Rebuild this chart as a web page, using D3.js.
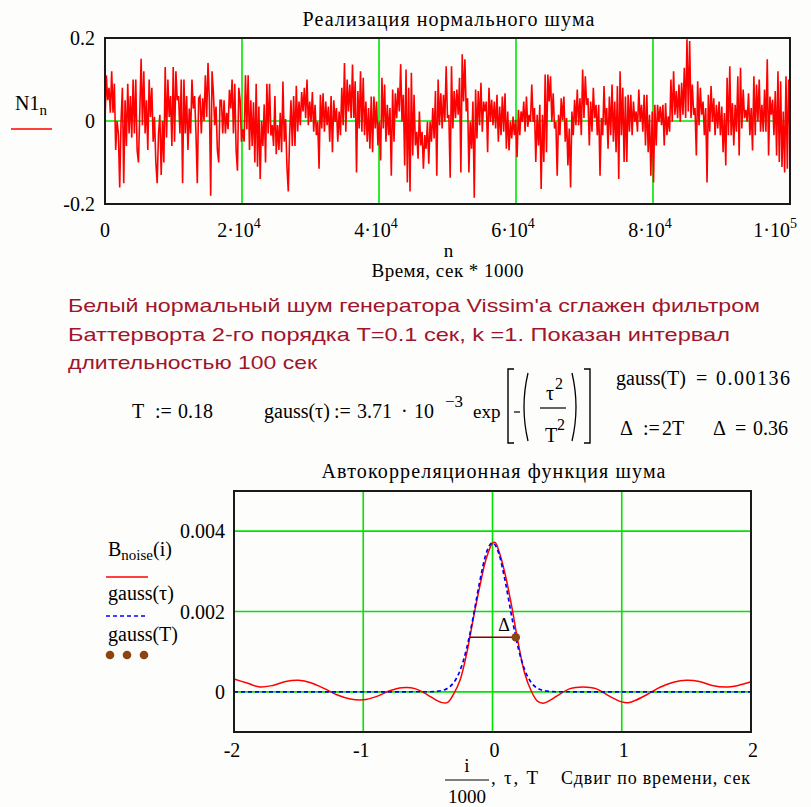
<!DOCTYPE html>
<html><head><meta charset="utf-8">
<script src="https://cdn.jsdelivr.net/npm/d3@7/dist/d3.min.js"></script>
<style>body{margin:0;background:#fdfdfb}svg{display:block}</style>
</head><body>
<svg id="c" width="811" height="807"></svg>
<script>
// ---------- data: noise realisation N1_n (evenly spaced in n) ----------
const N1 = [0,
0.11,0.05,0.08,0.02,0.12,0.02,0.09,-0.07,0.0,-0.03,-0.16,0.0,0.08,-0.15,0.05,-0.06,0.09,-0.03,0.06,-0.04,
0.10,-0.03,0.10,-0.07,-0.10,0.02,0.15,-0.01,0.12,-0.03,0.05,-0.07,0.10,0.01,0.08,-0.05,0.01,-0.10,-0.15,-0.03,
0.015,-0.13,0.0,-0.10,0.13,-0.04,0.10,0.01,0.06,-0.06,0.13,-0.05,0.12,0.05,0.06,-0.03,0.10,-0.15,0.10,-0.03,
0.06,-0.07,0.03,-0.03,0.10,0.03,0.06,-0.03,-0.15,0.055,0.06,-0.03,0.055,0.0,0.11,0.01,0.14,0.05,-0.18,0.12,
0.07,-0.01,0.035,-0.07,-0.10,0.05,0.05,-0.03,0.05,-0.03,0.02,-0.02,0.075,0.03,0.10,-0.03,0.09,-0.07,-0.12,0.08,
0.05,-0.05,-0.02,-0.05,0.11,-0.02,0.11,-0.07,0.05,-0.06,0.045,-0.10,0.09,-0.11,0.035,-0.14,0.0,-0.06,0.04,-0.10,
0.09,-0.03,0.09,-0.035,-0.01,-0.06,
0.06,-0.08,-0.01,-0.07,0.02,-0.075,0.095,-0.05,0.005,-0.11,-0.17,-0.035,0.05,-0.06,0.06,-0.06,0.085,-0.025,
0.047,-0.01,0.07,0.023,0.08,0.007,0.10,-0.01,0.047,-0.002,0.07,-0.026,0.039,-0.034,-0.002,-0.115,0.063,-0.018,
0.067,-0.026,0.047,-0.01,0.035,-0.05,0.06,-0.075,0.05,-0.002,0.031,-0.05,0.023,-0.034,0.08,-0.01,0.14,-0.026,
0.10,0.023,0.088,0.007,0.136,0.007,0.096,-0.124,0.072,-0.018,0.12,-0.026,0.104,-0.034,0.047,-0.05,0.031,-0.067,
0.059,-0.075,0.059,-0.018,0.047,-0.059,-0.002,-0.095,0.104,-0.018,0.088,-0.05,0.039,-0.034,0.031,-0.132,
0.076,-0.05,0.067,0.007,0.08,0.023,0.137,-0.002,0.063,-0.107,0.124,-0.148,0.08,-0.17,0.116,-0.083,0.063,-0.059,
-0.026,-0.091,0.023,-0.059,-0.026,-0.115,-0.034,-0.067,-0.002,-0.103,-0.002,-0.05,0.031,-0.042,0.072,-0.132,
0.10,-0.01,0.067,-0.018,0.063,-0.002,0.132,0.007,
0.015,-0.137,0.132,-0.018,0.072,0.007,0.076,0.015,0.104,-0.124,0.161,0.047,0.149,0.023,0.055,-0.124,
-0.002,-0.067,0.047,-0.185,0.076,-0.042,0.072,-0.01,0.092,-0.026,0.047,0.023,0.047,-0.075,0.08,-0.002,
0.051,-0.01,0.047,-0.018,0.063,-0.05,0.035,-0.034,0.059,-0.026,0.067,-0.067,0.023,-0.071,-0.002,-0.042,
0.011,-0.034,0.003,-0.087,0.027,-0.034,0.023,-0.002,0.047,-0.026,0.059,-0.014,0.015,-0.002,0.088,-0.002,
0.031,-0.099,0.015,-0.059,0.039,-0.164,0.015,-0.099,0.112,-0.075,0.112,0.047,0.108,-0.002,0.067,-0.018,
-0.002,-0.132,0.015,-0.034,0.055,0.002,0.059,-0.05,0.007,-0.107,-0.018,-0.16,0.023,-0.034,0.051,-0.01,
0.076,-0.01,0.055,-0.034,0.124,0.007,0.108,0.039,0.055,-0.059,0.047,-0.026,0.08,0.007,0.039,-0.034,
0.039,-0.132,0.007,-0.034,0.084,-0.01,0.031,-0.067,0.059,-0.034,0.088,-0.05,0.047,-0.075,0.084,-0.14,
0.12,-0.034,0.08,-0.099,0.059,-0.099,0.063,-0.026,0.063,-0.034,0.047,-0.002,0.023,-0.026,0.076,-0.002,
0.039,-0.026,0.063,-0.059,0.063,-0.075,0.015,-0.132,0.023,-0.148,0.039,-0.059,0.039,-0.002,0.035,-0.01,
0.039,-0.059,0.043,-0.034,0.011,-0.026,0.10,-0.002,0.12,0.015,0.072,0.007,0.088,-0.002,0.092,0.015,
0.128,0.007,0.197,0.023,0.193,0.007,0.088,0.015,0.031,-0.083,0.096,-0.01,0.08,0.015,0.047,-0.034,
0.031,-0.148,0.063,-0.026,0.084,-0.002,0.055,-0.034,0.039,-0.018,0.047,-0.034,0.035,-0.075,0.019,-0.107,
0.104,-0.034,0.132,-0.034,0.043,-0.059,0.039,-0.026,0.108,-0.083,0.128,-0.018,0.076,0.007,0.027,-0.002,
0.067,-0.034,0.031,-0.071,0.108,-0.034,0.088,-0.002,0.10,-0.026,0.039,-0.026,0.076,-0.026,0.149,-0.083,
0.059,0.015,0.051,-0.034,0.072,-0.083,0.12,-0.099,0.096,-0.111,0.023,-0.124,0.108,-0.115,0.10,-0.034];
const nMax = 100000;
const topXTicks = [0, 20000, 40000, 60000, 80000, 100000];
const topXTickBase = ["0", "2·10", "4·10", "6·10", "8·10", "1·10"];
const topXTickExp = ["", "4", "4", "4", "4", "5"];
const topYTicks = [-0.2, 0, 0.2];
const topYTickLabels = ["-0.2", "0", "0.2"];

// ---------- autocorrelation data ----------
const tauB = [-2,-1.9,-1.8,-1.7,-1.6,-1.5,-1.4,-1.3,-1.2,-1.1,-1.0,-0.9,-0.8,-0.7,-0.6,-0.5,-0.45,-0.4,-0.35,-0.3,
  -0.25,-0.2,-0.15,-0.1,-0.05,0,0.02,0.05,0.1,0.15,0.2,0.25,0.3,0.35,0.4,0.45,0.5,0.6,0.7,0.8,0.9,1.0,1.05,1.1,
  1.2,1.3,1.4,1.5,1.6,1.7,1.8,1.9,2.0];
const Bnoise = [0.00032,0.00022,0.00012,0.00016,0.00026,0.00029,0.00022,0.00008,-0.00008,-0.00018,-0.0002,-0.00012,
  0.00002,0.0001,0.00008,-0.00008,-0.00018,-0.00026,-0.00027,-0.00005,0.0003,0.00095,0.0018,0.0026,0.0033,0.0037,
  0.00372,0.0035,0.0029,0.0021,0.0012,0.00045,0.00002,-0.00024,-0.00028,-0.0002,-0.0001,0.00008,0.00012,0.00008,
  -0.0001,-0.00025,-0.00027,-0.00022,-0.00006,0.00012,0.00024,0.00029,0.00026,0.00016,0.00012,0.00016,0.00025];
const tauG = [-2,-0.5,-0.45,-0.4,-0.35,-0.3,-0.25,-0.2,-0.18,-0.15,-0.1,-0.05,0,0.05,0.1,0.15,0.18,0.2,0.25,0.3,0.35,0.4,0.45,0.5,2];
const gaussVals = [0,0.0000017,0.0000072,0.0000266,0.0000846,0.000231,0.000539,0.00108,0.001365,0.001853,0.002725,
  0.003434,0.00371,0.003434,0.002725,0.001853,0.001365,0.00108,0.000539,0.000231,0.0000846,0.0000266,0.0000072,0.0000017,0];
const Tval = 0.18, gaussT = 0.00136;
const deltaTau = [-0.18, 0.18];
const botXTicks = [-2, -1, 0, 1, 2];
const botXTickLabels = ["-2", "-1", "0", "1", "2"];
const botYTicks = [0, 0.002, 0.004];
const botYTickLabels = ["0", "0.002", "0.004"];

// ---------- drawing ----------
const svg = d3.select("#c");
const SERIF = "'Liberation Serif','Times New Roman',serif";
const SANS = "'Liberation Sans',Arial,sans-serif";
const GREEN = "#00e400", RED = "#ff0000";
svg.append("rect").attr("width", 811).attr("height", 807).attr("fill", "#fdfdfb");

function txt(x, y, s, opt = {}) {
  const t = svg.append("text").attr("x", x).attr("y", y).text(s)
    .attr("font-family", opt.family || SERIF).attr("font-size", opt.size || 20)
    .attr("fill", opt.fill || "#000").attr("text-anchor", opt.anchor || "start");
  if (opt.len) t.attr("textLength", opt.len).attr("lengthAdjust", opt.adj || "spacing");
  return t;
}

// ===== Top chart =====
const xT = d3.scaleLinear().domain([0, nMax]).range([105, 790]);
const yT = d3.scaleLinear().domain([-0.2, 0.2]).range([204, 38]);
const gT = svg.append("g");
gT.append("clipPath").attr("id", "clipT").append("rect")
  .attr("x", xT(0)).attr("y", yT(0.2)).attr("width", xT(nMax) - xT(0)).attr("height", yT(-0.2) - yT(0.2));
gT.selectAll("line.gv").data(topXTicks.slice(1, -1)).join("line")
  .attr("x1", d => xT(d)).attr("x2", d => xT(d)).attr("y1", yT(0.2)).attr("y2", yT(-0.2))
  .attr("stroke", GREEN).attr("stroke-width", 1.6);
gT.append("line").attr("x1", xT(0)).attr("x2", xT(nMax)).attr("y1", yT(0)).attr("y2", yT(0))
  .attr("stroke", GREEN).attr("stroke-width", 1.6);
const nStep = nMax / (N1.length - 1);
gT.append("path").datum(N1).attr("clip-path", "url(#clipT)")
  .attr("d", d3.line().x((d, i) => xT(i * nStep)).y(d => yT(d)))
  .attr("fill", "none").attr("stroke", RED).attr("stroke-width", 1.6).attr("stroke-linejoin", "miter");
gT.append("rect").attr("x", xT(0)).attr("y", yT(0.2)).attr("width", xT(nMax) - xT(0)).attr("height", yT(-0.2) - yT(0.2))
  .attr("fill", "none").attr("stroke", "#1a1a1a").attr("stroke-width", 2);
topYTicks.forEach((v, i) => txt(95, yT(v) + 7, topYTickLabels[i], { anchor: "end" }));
topXTicks.forEach((v, i) => {
  const cx = xT(v);
  const t = svg.append("text").attr("y", 237).attr("font-family", SERIF).attr("font-size", 20).attr("fill", "#000");
  t.append("tspan").text(topXTickBase[i]);
  if (topXTickExp[i]) t.append("tspan").attr("font-size", 14).attr("dy", -9).text(topXTickExp[i]);
  if (i === topXTicks.length - 1) t.attr("x", 797).attr("text-anchor", "end");
  else if (i === 0) t.attr("x", cx).attr("text-anchor", "middle");
  else t.attr("x", cx - 3).attr("text-anchor", "middle");
});
txt(xT(nMax / 2) + 1, 257, "n", { anchor: "middle", size: 19 });
txt(xT(nMax / 2), 277, "Время, сек * 1000", { anchor: "middle", size: 19, len: 152 });
txt(xT(nMax / 2) + 1, 26, "Реализация нормального шума", { anchor: "middle", size: 20, len: 292 });
const lgT = svg.append("text").attr("x", 15).attr("y", 110).attr("font-family", SERIF).attr("font-size", 20);
lgT.append("tspan").text("N1");
lgT.append("tspan").attr("font-size", 15).attr("dy", 5).text("n");
svg.append("line").attr("x1", 11).attr("x2", 52).attr("y1", 129).attr("y2", 129).attr("stroke", RED).attr("stroke-width", 1.5);

// ===== Middle text =====
const DR = "#a0142c";
txt(68, 312, "Белый нормальный шум генератора Vissim'a сглажен фильтром", { family: SANS, size: 19, fill: DR, len: 692, adj: "spacingAndGlyphs" });
txt(68, 341, "Баттерворта 2-го порядка T=0.1 сек, k =1. Показан интервал", { family: SANS, size: 19, fill: DR, len: 662, adj: "spacingAndGlyphs" });
txt(68, 369, "длительностью 100 сек", { family: SANS, size: 19, fill: DR, len: 249, adj: "spacingAndGlyphs" });

// ===== Formulas =====
txt(132, 418, "T");
txt(155, 418, ":=");
txt(178, 418, "0.18");
txt(264, 418, "gauss(τ)");
txt(334, 418, ":=");
txt(357, 418, "3.71");
txt(401, 418, "·");
txt(414, 418, "10");
txt(445, 407, "−3", { size: 17 });
txt(473, 418, "exp", { size: 19 });
svg.append("path").attr("d", "M514,369 L508,369 L508,443 L514,443").attr("fill", "none").attr("stroke", "#000").attr("stroke-width", 1.4);
svg.append("path").attr("d", "M584,369 L590,369 L590,443 L584,443").attr("fill", "none").attr("stroke", "#000").attr("stroke-width", 1.4);
svg.append("line").attr("x1", 514).attr("x2", 520).attr("y1", 412).attr("y2", 412).attr("stroke", "#000").attr("stroke-width", 1.2);
svg.append("path").attr("d", "M528,373 Q520,407 528,441").attr("fill", "none").attr("stroke", "#000").attr("stroke-width", 1.3);
svg.append("path").attr("d", "M572,373 Q580,407 572,441").attr("fill", "none").attr("stroke", "#000").attr("stroke-width", 1.3);
svg.append("line").attr("x1", 540).attr("x2", 566).attr("y1", 408).attr("y2", 408).attr("stroke", "#000").attr("stroke-width", 1.2);
txt(546, 400, "τ");
txt(555, 389, "2", { size: 16 });
txt(545, 442, "T");
txt(557, 430, "2", { size: 16 });
txt(616, 385, "gauss(T)");
txt(696, 385, "=");
txt(716, 385, "0.00136", { len: 74 });
txt(620, 435, "Δ");
txt(643, 435, ":=");
txt(662, 435, "2T");
txt(713, 435, "Δ");
txt(735, 435, "=");
txt(753, 435, "0.36");

// ===== Bottom chart =====
const xB = d3.scaleLinear().domain([-2, 2]).range([234, 751]);
const yB = d3.scaleLinear().domain([-0.001, 0.005]).range([732, 491]);
const gB = svg.append("g");
gB.selectAll("line.gv").data([-1, 0, 1]).join("line")
  .attr("x1", d => xB(d)).attr("x2", d => xB(d)).attr("y1", yB(0.005)).attr("y2", yB(-0.001))
  .attr("stroke", GREEN).attr("stroke-width", 1.6);
gB.selectAll("line.gh").data(botYTicks).join("line")
  .attr("x1", xB(-2)).attr("x2", xB(2)).attr("y1", d => yB(d)).attr("y2", d => yB(d))
  .attr("stroke", GREEN).attr("stroke-width", 1.6);
gB.append("path").datum(d3.zip(tauB, Bnoise))
  .attr("d", d3.line().x(d => xB(d[0])).y(d => yB(d[1])).curve(d3.curveCatmullRom))
  .attr("fill", "none").attr("stroke", RED).attr("stroke-width", 1.5);
gB.append("path").datum(d3.zip(tauG, gaussVals))
  .attr("d", d3.line().x(d => xB(d[0])).y(d => yB(d[1])).curve(d3.curveMonotoneX))
  .attr("fill", "none").attr("stroke", "#0000ff").attr("stroke-width", 1.7).attr("stroke-dasharray", "4,3");
gB.append("line").attr("x1", xB(deltaTau[0])).attr("x2", xB(deltaTau[1])).attr("y1", yB(gaussT)).attr("y2", yB(gaussT))
  .attr("stroke", "#8b0000").attr("stroke-width", 1.6);
gB.append("circle").attr("cx", xB(Tval)).attr("cy", yB(gaussT)).attr("r", 4.3).attr("fill", "#8b4513");
txt(xB(0.09), yB(gaussT) - 6, "Δ", { size: 18, anchor: "middle" });
gB.append("rect").attr("x", xB(-2)).attr("y", yB(0.005)).attr("width", xB(2) - xB(-2)).attr("height", yB(-0.001) - yB(0.005))
  .attr("fill", "none").attr("stroke", "#1a1a1a").attr("stroke-width", 2);
botYTicks.forEach((v, i) => txt(225, yB(v) + 7, botYTickLabels[i], { anchor: "end" }));
botXTicks.forEach((v, i) => txt(xB(v) + (v < 0 ? -2 : 2), 757, botXTickLabels[i], { anchor: "middle" }));
txt(xB(0) + 1, 478, "Автокорреляционная функция шума", { anchor: "middle", len: 344 });
txt(467, 772, "i", { size: 19, anchor: "middle" });
svg.append("line").attr("x1", 445).attr("x2", 489).attr("y1", 780).attr("y2", 780).attr("stroke", "#000").attr("stroke-width", 1.2);
txt(467, 803, "1000", { size: 19, anchor: "middle" });
txt(491, 784, ", τ, T", { size: 19, len: 47 });
txt(561, 784, "Сдвиг по времени, сек", { size: 18, len: 189 });
const lb = svg.append("text").attr("x", 108).attr("y", 556).attr("font-family", SERIF).attr("font-size", 20);
lb.append("tspan").text("B");
lb.append("tspan").attr("font-size", 15).attr("dy", 4).text("noise");
lb.append("tspan").attr("dy", -4).text("(i)");
svg.append("line").attr("x1", 106).attr("x2", 148).attr("y1", 577).attr("y2", 577).attr("stroke", RED).attr("stroke-width", 1.5);
txt(108, 600, "gauss(τ)");
svg.append("line").attr("x1", 106).attr("x2", 148).attr("y1", 616).attr("y2", 616).attr("stroke", "#0000ff")
  .attr("stroke-width", 1.5).attr("stroke-dasharray", "4,3");
txt(108, 641, "gauss(T)");
[110, 127, 144].forEach(cx => svg.append("circle").attr("cx", cx).attr("cy", 655).attr("r", 4.3).attr("fill", "#8b4513"));
</script>
</body></html>
